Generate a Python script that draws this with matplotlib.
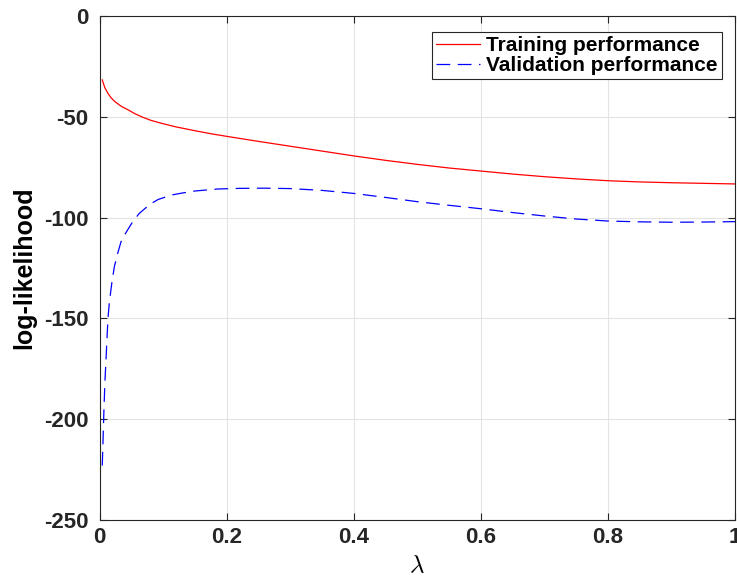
import numpy as np
import matplotlib.pyplot as plt

# ---- data ----
lam_train = [0.004, 0.008, 0.013, 0.018, 0.024, 0.034, 0.045, 0.055, 0.066, 0.08, 0.097,
             0.12, 0.15, 0.175, 0.2, 0.25, 0.3, 0.35, 0.4, 0.45, 0.5, 0.55, 0.6, 0.65,
             0.7, 0.75, 0.8, 0.85, 0.9, 0.95, 1.0]
ll_train = [-31.7, -35.5, -38.4, -40.6, -42.5, -44.8, -46.6, -48.4, -50.0, -51.7, -53.2,
            -55.0, -56.9, -58.4, -59.7, -62.2, -64.6, -67.0, -69.4, -71.6, -73.6, -75.4, -76.9, -78.4,
            -79.7, -80.8, -81.7, -82.3, -82.7, -83.0, -83.3]

lam_val = [0.004, 0.0047, 0.0057, 0.0068, 0.0083, 0.0099, 0.0115, 0.013, 0.015, 0.019,
           0.023, 0.028, 0.0335, 0.041, 0.052, 0.062, 0.079, 0.092, 0.113, 0.13, 0.15,
           0.186, 0.22, 0.26, 0.3, 0.35, 0.4, 0.45, 0.5, 0.55, 0.6, 0.65,
           0.7, 0.75, 0.8, 0.85, 0.9, 0.95, 1.0]
ll_val = [-223.0, -216.0, -205.4, -193.8, -180.6, -170.6, -159.5, -150.0, -142.6, -132.5,
          -124.4, -118.0, -112.0, -107.6, -102.0, -98.0, -93.4, -91.0, -88.8, -87.8, -86.8,
          -85.8, -85.5, -85.4, -85.6, -86.5, -88.0, -90.0, -92.1, -93.9, -95.6, -97.5,
          -99.2, -100.7, -101.7, -102.1, -102.3, -102.2, -102.0]

xticks = [0, 0.2, 0.4, 0.6, 0.8, 1]
xtick_labels = ["0", "0.2", "0.4", "0.6", "0.8", "1"]
yticks = [-250, -200, -150, -100, -50, 0]

# ---- plot ----
plt.rcParams.update({
    "font.family": "Liberation Sans",
    "font.weight": "bold",
    "font.size": 16,
    "axes.unicode_minus": False,
    "mathtext.fontset": "cm",
})

fig = plt.figure(figsize=(7.37, 5.82), dpi=100)
ax = fig.add_axes([0.1353, 0.1065, 0.862, 0.866])

ax.plot(lam_train, ll_train, color="red", lw=0.9, label="Training performance")
ax.plot(lam_val, ll_val, color="blue", lw=0.9, dashes=(11, 6), label="Validation performance")

ax.set_xlim(0, 1)
ax.set_ylim(-250, 0)
ax.set_xticks(xticks)
ax.set_xticklabels(xtick_labels)
ax.set_yticks(yticks)

ax.grid(True, color="#e3e3e3", lw=0.8)
ax.set_axisbelow(True)
ax.tick_params(direction="in", top=True, right=True, length=5, width=0.8,
               color="#262626", labelcolor="#262626")
ax.tick_params(axis="y", pad=8)
ax.tick_params(axis="x", pad=5)
for s in ax.spines.values():
    s.set_color("#262626")
    s.set_linewidth(0.8)

ax.set_xlabel(r"$\lambda$", fontsize=18, labelpad=4)
ax.set_ylabel("log-likelihood", fontsize=18, fontweight="bold", labelpad=6)

leg = ax.legend(loc="upper right", bbox_to_anchor=(0.9796, 0.9683), borderaxespad=0,
                prop={"family": "Liberation Sans", "weight": "bold", "size": 15},
                frameon=True, fancybox=False, edgecolor="#262626", framealpha=1,
                handlelength=2.1, borderpad=0.2, labelspacing=0.05, handletextpad=0.3)
leg.get_frame().set_linewidth(0.8)

fig.savefig("out.png", dpi=100)
